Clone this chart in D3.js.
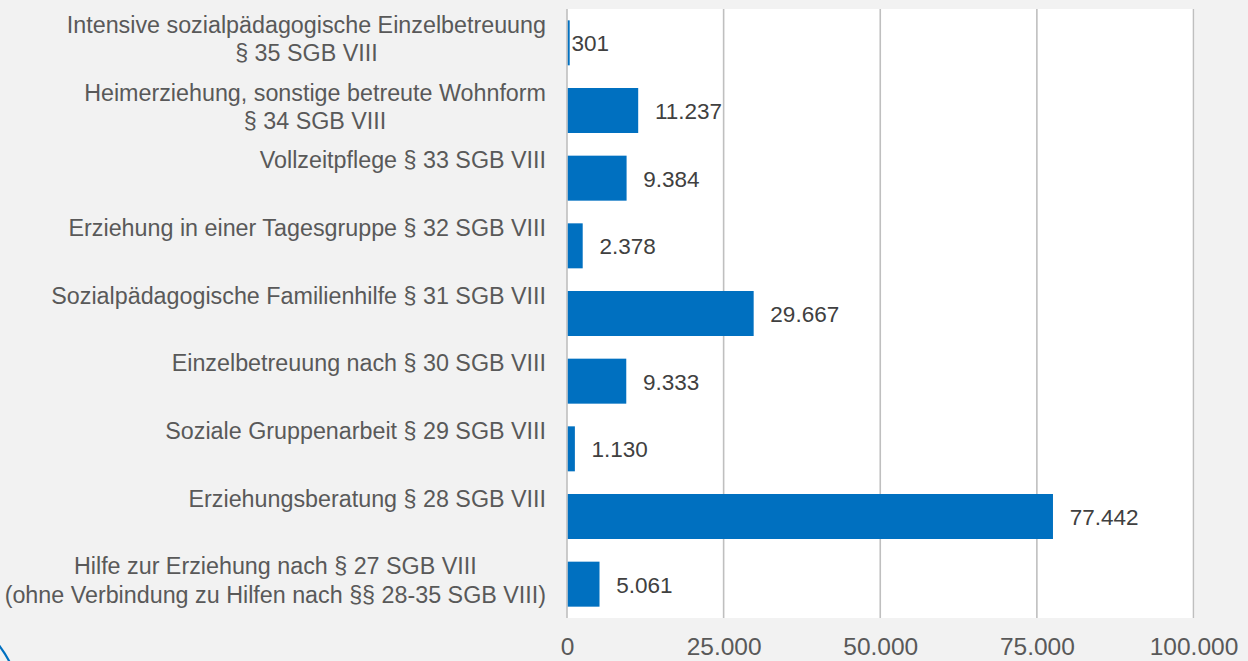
<!DOCTYPE html>
<html><head><meta charset="utf-8">
<script src="https://cdn.jsdelivr.net/npm/d3@7"></script>
<style>
html,body{margin:0;padding:0;background:#f2f2f2;}
svg{display:block;font-family:"Liberation Sans",Arial,sans-serif;}
</style></head>
<body>
<svg id="chart" width="1248" height="661"></svg>
<script>
const categories = [
  ["Intensive sozialpädagogische Einzelbetreuung", "§ 35 SGB VIII"],
  ["Heimerziehung, sonstige betreute Wohnform", "§ 34 SGB VIII"],
  ["Vollzeitpflege § 33 SGB VIII"],
  ["Erziehung in einer Tagesgruppe § 32 SGB VIII"],
  ["Sozialpädagogische Familienhilfe § 31 SGB VIII"],
  ["Einzelbetreuung nach § 30 SGB VIII"],
  ["Soziale Gruppenarbeit § 29 SGB VIII"],
  ["Erziehungsberatung § 28 SGB VIII"],
  ["Hilfe zur Erziehung nach § 27 SGB VIII", "(ohne Verbindung zu Hilfen nach §§ 28-35 SGB VIII)"]
];
const values = [301, 11237, 9384, 2378, 29667, 9333, 1130, 77442, 5061];
const tickValues = [0, 25000, 50000, 75000, 100000];
const tickLabels = ["0", "25.000", "50.000", "75.000", "100.000"];
const valueLabels = ["301", "11.237", "9.384", "2.378", "29.667", "9.333", "1.130", "77.442", "5.061"];

const svg = d3.select("#chart");
const W = 1248, H = 661;
const plot = {left: 567, right: 1193.5, top: 9, bottom: 618};

svg.append("rect").attr("width", W).attr("height", H).attr("fill", "#f2f2f2");

const x = d3.scaleLinear().domain([0, 100000]).range([plot.left, plot.right]);
const y = d3.scaleBand().domain(d3.range(categories.length))
  .range([plot.top, plot.bottom]).paddingInner(0.335).paddingOuter(0.1675);

// plot area
svg.append("rect").attr("x", plot.left).attr("y", plot.top)
  .attr("width", plot.right - plot.left + 1.5).attr("height", plot.bottom - plot.top)
  .attr("fill", "#ffffff");

// gridlines
svg.append("g").selectAll("line").data(tickValues).join("line")
  .attr("x1", d => x(d)).attr("x2", d => x(d))
  .attr("y1", plot.top).attr("y2", plot.bottom)
  .attr("stroke", "#bfbfbf").attr("stroke-width", 1.6);

// bars
svg.append("g").selectAll("rect").data(values).join("rect")
  .attr("x", x(0) + 0.8)
  .attr("y", (d, i) => y(i))
  .attr("width", d => x(d) - x(0))
  .attr("height", y.bandwidth())
  .attr("fill", "#0070c0");

// value labels
svg.append("g").selectAll("text").data(values).join("text")
  .attr("x", d => x(d) + (d < 1000 ? 2.5 : 17.5))
  .attr("y", (d, i) => y(i) + y.bandwidth() / 2 + 8.5)
  .attr("font-size", "22.5px").attr("fill", "#404040")
  .text((d, i) => valueLabels[i]);

// x axis tick labels
const xAxis = d3.axisBottom(x).tickValues(tickValues)
  .tickFormat((d, i) => tickLabels[i]).tickSize(0).tickPadding(0);
const ax = svg.append("g").attr("transform", `translate(0,${plot.bottom})`).call(xAxis);
ax.select(".domain").remove();
ax.selectAll("text").attr("font-size", "24.5px").attr("fill", "#595959")
  .attr("font-family", "'Liberation Sans',Arial,sans-serif")
  .attr("dy", null).attr("y", 37);

// category labels
const labelRight = 546;
const lineGap = 28.5;
categories.forEach((lines, i) => {
  const g = svg.append("g");
  const cy = y(i) + y.bandwidth() / 2;
  const texts = lines.map((ln, j) => g.append("text")
    .attr("y", cy - 10 + j * lineGap)
    .attr("font-size", "23.3px").attr("fill", "#595959")
    .text(ln));
  const maxW = d3.max(texts, t => t.node().getComputedTextLength());
  texts.forEach(t => t.attr("x", labelRight - maxW / 2).attr("text-anchor", "middle"));
});

// decorative arc bottom-left
svg.append("circle").attr("cx", -100).attr("cy", 720).attr("r", 124)
  .attr("fill", "none").attr("stroke", "#0070c0").attr("stroke-width", 2.2);
</script>
</body></html>
